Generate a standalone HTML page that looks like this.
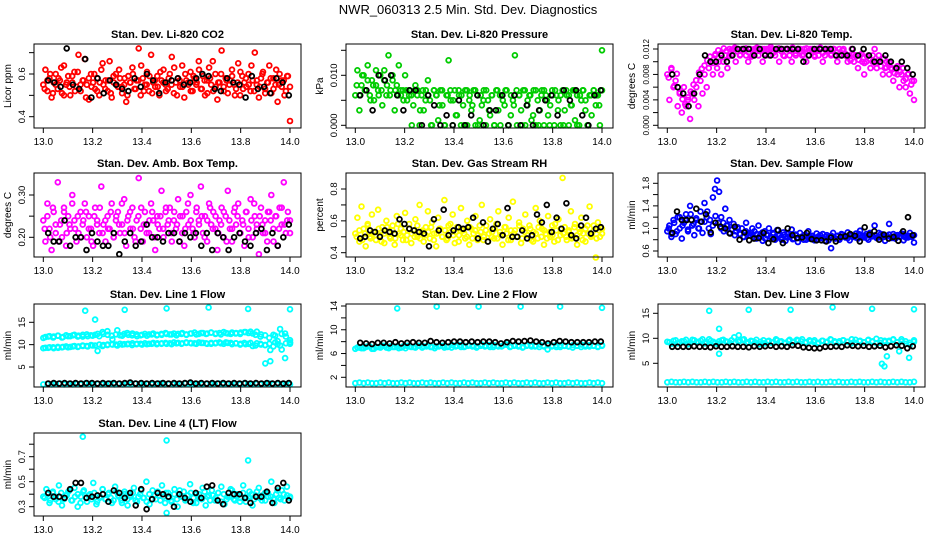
<!DOCTYPE html>
<html><head><meta charset="utf-8"><style>
body{margin:0;background:#fff}
svg{display:block;font-family:"Liberation Sans",sans-serif}
</style></head><body>
<svg id="chart" width="936" height="540" viewBox="0 0 936 540">
<rect width="936" height="540" fill="#fff"/>
<text x="468" y="14" text-anchor="middle" font-size="13">NWR_060313  2.5 Min. Std. Dev. Diagnostics</text>
</svg>
<script>
// ---- data ----
const xTicks=[13.0,13.2,13.4,13.6,13.8,14.0];
const co2Color=[0.55,0.62,0.52,0.58,0.49,0.56,0.60,0.53,0.57,0.51,0.64,0.55,0.59,0.50,0.56,0.61,0.54,0.69,0.52,0.57,0.67,0.55,0.48,0.60,0.56,0.53,0.58,0.50,0.62,0.55,0.57,0.52,0.66,0.49,0.56,0.60,0.54,0.58,0.51,0.55,0.47,0.59,0.56,0.63,0.53,0.57,0.72,0.50,0.58,0.55,0.61,0.52,0.69,0.56,0.54,0.59,0.50,0.57,0.62,0.55,0.53,0.60,0.68,0.51,0.56,0.58,0.54,0.64,0.49,0.57,0.55,0.61,0.52,0.58,0.56,0.66,0.53,0.59,0.50,0.57,0.63,0.55,0.52,0.60,0.48,0.56,0.71,0.54,0.58,0.51,0.57,0.62,0.55,0.53,0.65,0.50,0.59,0.56,0.54,0.60,0.52,0.57,0.70,0.55,0.49,0.58,0.61,0.53,0.56,0.64,0.51,0.58,0.55,0.47,0.60,0.54,0.57,0.52,0.59,0.38];
const co2ColorB=[0.53,0.57,0.60,0.51,0.55,0.58,0.63,0.50,0.56,0.54,0.59,0.52,0.61,0.55,0.57,0.49,0.58,0.54,0.60,0.52,0.56,0.65,0.53,0.57,0.51,0.59,0.55,0.62,0.54,0.58,0.50,0.56,0.60,0.53,0.57,0.64,0.52,0.55,0.59,0.51,0.57,0.54,0.61,0.56,0.52,0.58,0.55,0.63,0.50,0.57,0.54,0.60,0.56,0.52,0.59,0.55,0.62,0.53,0.57,0.51,0.58,0.66,0.54,0.56,0.60,0.52,0.57,0.55,0.59,0.50,0.56,0.61,0.53,0.58,0.55,0.64,0.52,0.57,0.54,0.60,0.51,0.56,0.58,0.53,0.62,0.55,0.57,0.50,0.59,0.54];
const co2Black=[0.57,0.56,0.54,0.72,0.55,0.53,0.67,0.49,0.58,0.51,0.57,0.55,0.53,0.52,0.58,0.54,0.60,0.57,0.51,0.56,0.57,0.58,0.55,0.56,0.58,0.60,0.59,0.53,0.52,0.58,0.56,0.55,0.49,0.59,0.53,0.54,0.51,0.58,0.56,0.50];
const presColor=[0.006,0.011,0.003,0.008,0.010,0.007,0.012,0.006,0.009,0.005,0.008,0.007,0.010,0.004,0.011,0.006,0.014,0.007,0.009,0.003,0.008,0.012,0.006,0.007,0.010,0.005,0.007,0.006,0.004,0.008,0.007,0.000,0.006,0.003,0.007,0.009,0.005,0.000,0.007,0.006,0.001,0.007,0.004,0.000,0.006,0.013,0.005,0.000,0.007,0.002,0.006,0.000,0.004,0.007,0.000,0.005,0.003,0.007,0.000,0.006,0.001,0.004,0.007,0.000,0.005,0.002,0.006,0.000,0.007,0.003,0.000,0.006,0.004,0.007,0.000,0.002,0.005,0.014,0.000,0.006,0.003,0.007,0.000,0.004,0.006,0.001,0.007,0.000,0.005,0.003,0.007,0.000,0.006,0.002,0.004,0.007,0.000,0.006,0.005,0.000,0.007,0.003,0.006,0.000,0.004,0.007,0.001,0.006,0.000,0.005,0.007,0.003,0.000,0.006,0.002,0.007,0.004,0.006,0.000,0.015];
const presColorB=[0.008,0.006,0.010,0.007,0.009,0.005,0.008,0.011,0.006,0.007,0.009,0.008,0.006,0.010,0.007,0.006,0.007,0.005,0.007,0.006,0.000,0.007,0.006,0.003,0.007,0.005,0.006,0.000,0.007,0.006,0.004,0.007,0.000,0.006,0.007,0.005,0.002,0.007,0.006,0.000,0.007,0.006,0.004,0.007,0.000,0.006,0.005,0.007,0.003,0.006,0.000,0.007,0.006,0.005,0.007,0.000,0.006,0.004,0.007,0.006,0.000,0.007,0.005,0.006,0.002,0.007,0.000,0.006,0.007,0.005,0.000,0.006,0.007,0.003,0.006,0.000,0.007,0.006,0.004,0.007,0.000,0.006,0.007,0.005,0.000,0.006,0.007,0.006,0.004,0.007];
const presBlack=[0.006,0.007,0.003,0.010,0.009,0.010,0.006,0.003,0.007,0.007,0.000,0.006,0.004,0.000,0.002,0.000,0.005,0.000,0.002,0.006,0.000,0.003,0.003,0.006,0.000,0.006,0.000,0.004,0.000,0.003,0.005,0.006,0.002,0.007,0.005,0.007,0.002,0.000,0.006,0.007];
const tempColor=[0.008,0.004,0.009,0.006,0.007,0.003,0.005,0.002,0.006,0.003,0.004,0.001,0.005,0.004,0.006,0.003,0.007,0.005,0.008,0.006,0.009,0.010,0.008,0.011,0.009,0.010,0.008,0.010,0.011,0.009,0.012,0.011,0.012,0.010,0.012,0.011,0.012,0.012,0.011,0.010,0.012,0.011,0.012,0.012,0.011,0.012,0.010,0.012,0.012,0.011,0.012,0.012,0.011,0.012,0.010,0.012,0.011,0.012,0.012,0.011,0.010,0.012,0.011,0.012,0.012,0.011,0.012,0.010,0.011,0.012,0.012,0.011,0.012,0.011,0.012,0.010,0.011,0.012,0.012,0.011,0.012,0.011,0.010,0.012,0.011,0.012,0.011,0.010,0.011,0.012,0.010,0.011,0.009,0.011,0.010,0.008,0.010,0.011,0.009,0.010,0.012,0.009,0.011,0.010,0.008,0.009,0.010,0.008,0.009,0.007,0.009,0.008,0.006,0.008,0.007,0.006,0.008,0.005,0.007,0.004];
const tempColorB=[0.0075,0.0088,0.0062,0.0081,0.0052,0.0041,0.0033,0.0044,0.0053,0.0064,0.0071,0.0083,0.0089,0.0094,0.0102,0.0108,0.0098,0.0112,0.0118,0.0113,0.0121,0.0117,0.0109,0.0119,0.0122,0.0116,0.0111,0.0119,0.0121,0.0115,0.0108,0.0118,0.0122,0.0117,0.0120,0.0112,0.0119,0.0123,0.0114,0.0118,0.0121,0.0116,0.0109,0.0120,0.0118,0.0122,0.0113,0.0119,0.0116,0.0111,0.0121,0.0117,0.0119,0.0108,0.0118,0.0122,0.0114,0.0119,0.0117,0.0112,0.0120,0.0115,0.0110,0.0118,0.0113,0.0107,0.0102,0.0111,0.0109,0.0103,0.0112,0.0098,0.0108,0.0104,0.0110,0.0097,0.0102,0.0093,0.0105,0.0091,0.0099,0.0088,0.0082,0.0093,0.0084,0.0090,0.0073,0.0081,0.0064,0.0070];
const tempBlack=[0.008,0.006,0.005,0.003,0.005,0.008,0.011,0.010,0.010,0.011,0.010,0.011,0.012,0.012,0.012,0.011,0.012,0.011,0.011,0.012,0.012,0.012,0.012,0.012,0.010,0.011,0.012,0.012,0.012,0.012,0.011,0.011,0.011,0.012,0.011,0.012,0.011,0.010,0.010,0.011,0.010,0.009,0.010,0.009,0.008];
const ambColor=[0.24,0.19,0.28,0.22,0.17,0.26,0.21,0.33,0.23,0.20,0.27,0.18,0.25,0.22,0.30,0.24,0.19,0.21,0.26,0.23,0.28,0.20,0.25,0.22,0.18,0.27,0.24,0.21,0.32,0.23,0.19,0.25,0.22,0.28,0.20,0.24,0.26,0.21,0.23,0.29,0.18,0.25,0.22,0.27,0.20,0.24,0.34,0.22,0.19,0.26,0.23,0.21,0.28,0.24,0.17,0.25,0.22,0.31,0.20,0.26,0.23,0.27,0.19,0.24,0.22,0.29,0.25,0.21,0.18,0.26,0.23,0.30,0.22,0.20,0.27,0.24,0.32,0.21,0.25,0.19,0.28,0.23,0.26,0.22,0.17,0.24,0.27,0.20,0.25,0.31,0.22,0.19,0.26,0.23,0.28,0.21,0.24,0.18,0.26,0.22,0.29,0.20,0.25,0.23,0.16,0.27,0.21,0.24,0.19,0.26,0.30,0.22,0.25,0.18,0.27,0.23,0.33,0.21,0.26,0.24];
const ambColorB=[0.22,0.25,0.20,0.27,0.23,0.19,0.24,0.26,0.21,0.23,0.28,0.22,0.25,0.20,0.24,0.26,0.22,0.19,0.25,0.23,0.27,0.21,0.24,0.22,0.26,0.20,0.25,0.23,0.28,0.21,0.24,0.26,0.22,0.19,0.25,0.27,0.23,0.21,0.24,0.26,0.20,0.23,0.25,0.22,0.27,0.24,0.21,0.26,0.23,0.19,0.25,0.22,0.28,0.24,0.21,0.26,0.23,0.25,0.20,0.24,0.27,0.22,0.25,0.21,0.23,0.26,0.19,0.24,0.22,0.27,0.25,0.21,0.23,0.26,0.20,0.24,0.28,0.22,0.25,0.23,0.21,0.26,0.24,0.19,0.25,0.22,0.27,0.23,0.24,0.21];
const ambBlack=[0.21,0.19,0.19,0.24,0.18,0.20,0.20,0.17,0.21,0.19,0.18,0.18,0.21,0.16,0.19,0.21,0.18,0.19,0.23,0.20,0.20,0.19,0.21,0.21,0.19,0.21,0.20,0.21,0.18,0.21,0.17,0.21,0.20,0.17,0.20,0.21,0.19,0.18,0.21,0.22,0.17,0.21,0.18,0.20,0.23];
const rhColor=[0.52,0.62,0.47,0.69,0.55,0.44,0.58,0.50,0.64,0.53,0.48,0.67,0.51,0.56,0.46,0.60,0.53,0.49,0.57,0.45,0.63,0.52,0.55,0.48,0.65,0.51,0.58,0.46,0.54,0.61,0.50,0.70,0.53,0.47,0.56,0.66,0.49,0.59,0.52,0.44,0.62,0.55,0.50,0.73,0.48,0.57,0.53,0.64,0.46,0.56,0.51,0.68,0.54,0.49,0.60,0.45,0.55,0.52,0.63,0.48,0.57,0.70,0.50,0.54,0.47,0.61,0.53,0.49,0.58,0.66,0.51,0.45,0.56,0.52,0.62,0.48,0.72,0.54,0.50,0.59,0.46,0.55,0.64,0.51,0.57,0.48,0.53,0.68,0.49,0.60,0.55,0.45,0.52,0.63,0.50,0.57,0.47,0.54,0.61,0.51,0.87,0.56,0.48,0.53,0.66,0.50,0.58,0.45,0.55,0.62,0.52,0.47,0.57,0.69,0.51,0.54,0.37,0.59,0.50,0.55];
const rhColorB=[0.50,0.54,0.48,0.52,0.57,0.49,0.53,0.51,0.55,0.47,0.52,0.56,0.50,0.54,0.49,0.58,0.51,0.53,0.48,0.55,0.52,0.50,0.57,0.49,0.54,0.51,0.53,0.56,0.48,0.52,0.55,0.50,0.54,0.49,0.58,0.51,0.53,0.47,0.55,0.52,0.50,0.56,0.49,0.54,0.51,0.53,0.48,0.57,0.52,0.50,0.55,0.49,0.53,0.51,0.56,0.48,0.54,0.52,0.50,0.57,0.49,0.53,0.51,0.55,0.47,0.52,0.56,0.50,0.54,0.49,0.53,0.51,0.58,0.48,0.55,0.52,0.50,0.54,0.49,0.56,0.51,0.53,0.48,0.55,0.52,0.50,0.57,0.49,0.54,0.52];
const rhBlack=[0.49,0.50,0.54,0.53,0.50,0.54,0.53,0.52,0.61,0.58,0.55,0.54,0.53,0.52,0.44,0.61,0.54,0.67,0.51,0.54,0.56,0.55,0.56,0.62,0.49,0.59,0.47,0.55,0.58,0.51,0.68,0.50,0.50,0.54,0.49,0.51,0.64,0.59,0.70,0.53,0.62,0.55,0.71,0.51,0.49,0.57,0.62,0.52,0.55,0.56];
const flowColor=[0.95,1.05,0.85,1.15,0.90,1.20,1.00,0.82,1.10,1.25,0.95,1.40,1.05,0.88,1.15,1.00,1.30,0.92,1.12,1.20,1.00,0.90,1.55,1.70,1.85,1.65,1.20,1.10,1.35,1.05,1.15,0.98,1.08,0.95,1.02,0.90,1.00,0.85,1.10,0.92,0.88,1.00,0.95,0.82,1.05,0.90,0.78,0.95,0.88,1.00,0.85,0.92,0.80,0.97,0.88,0.84,0.93,0.78,0.90,0.86,0.98,0.82,0.89,0.76,0.92,0.85,0.88,0.80,0.95,0.84,0.87,0.79,0.91,0.86,0.83,0.90,0.78,0.88,0.85,0.65,0.92,0.82,0.87,0.80,0.90,0.86,0.84,0.93,0.79,0.88,0.85,0.91,0.82,0.96,0.87,0.84,0.90,0.80,0.88,0.86,1.05,0.83,0.92,0.85,0.89,0.78,0.87,1.08,0.84,0.90,0.82,0.88,0.86,0.91,0.79,0.87,0.84,0.92,0.85,0.75];
const flowColorB=[1.00,0.90,1.10,0.95,1.20,1.05,1.15,0.98,1.25,1.08,1.18,1.00,1.12,1.45,1.30,1.15,1.05,1.22,1.10,1.00,0.95,1.05,0.92,0.98,0.88,1.00,0.90,0.85,0.95,0.88,0.92,0.84,0.90,0.86,0.93,0.82,0.88,0.85,0.90,0.83,0.87,0.80,0.89,0.84,0.86,0.81,0.88,0.83,0.85,0.80,0.87,0.82,0.86,0.84,0.80,0.88,0.83,0.85,0.79,0.87,0.84,0.86,0.82,0.89,0.85,0.83,0.88,0.86,0.84,0.90,0.85,0.87,0.83,0.92,0.86,0.88,0.84,0.90,0.85,0.87,0.89,0.83,0.86,0.88,0.85,0.90,0.84,0.87,0.86,0.88];
const flowBlack=[0.92,1.30,1.15,1.15,1.15,1.35,1.12,1.25,0.93,1.10,1.03,1.00,0.91,1.03,0.80,0.93,0.79,0.82,0.83,0.92,0.74,0.81,0.97,0.74,1.00,0.88,0.83,0.84,0.92,0.81,0.79,0.79,0.77,0.84,0.77,0.85,0.86,0.90,0.87,0.77,1.02,0.89,0.95,0.80,0.89,0.82,0.85,0.78,0.95,1.20,0.88];
const l1High=[11.5,11.8,11.6,12.0,11.7,11.9,12.1,11.8,12.2,11.9,12.0,12.4,12.8,13.0,11.2,13.2,12.0,12.6,12.1,11.9,12.2,12.0,12.3,12.1,12.2,12.4,12.3,12.1,12.4,12.2,12.5,12.3,12.6,12.4,12.7,12.5,12.3,12.6,12.4,12.5,12.7,12.8,12.9,12.2,11.8,5.8,6.3,12.0,13.5,12.5,11.0];
const l1HighB=[11.7,11.9,11.8,12.0,11.6,12.1,11.9,12.2,12.0,11.8,12.3,12.1,12.2,11.9,12.4,12.2,12.0,12.3,12.1,12.4,12.2,12.5,12.3,12.1,12.4,12.3,12.5,12.2,12.4,12.6,12.3,12.5,12.4,12.6,12.3,12.5,12.7,12.4,12.6,12.5,12.7,12.4,12.6,12.8,12.5,12.7,12.6,12.4,12.8,12.6,12.5,12.9,12.3,12.1,11.5,12.2,10.8,12.4,11.8,10.5];
const l1Low=[9.2,9.3,9.4,9.3,9.5,9.4,9.6,9.5,9.7,9.6,9.8,8.6,9.7,9.9,10.0,9.8,10.0,10.1,9.9,10.2,10.0,10.1,10.2,10.1,10.3,10.2,10.1,10.3,10.2,10.4,10.3,10.2,10.4,10.3,10.2,10.4,10.3,10.5,10.4,10.3,10.2,10.1,10.4,9.8,10.2,9.9,8.8,10.5,9.8,7.0,10.2];
const l1LowB=[9.3,9.4,9.2,9.5,9.4,9.6,9.5,9.7,9.6,9.8,9.7,9.9,9.8,10.0,9.9,10.0,10.1,10.0,10.2,10.1,10.2,10.3,10.1,10.2,10.3,10.2,10.4,10.3,10.2,10.4,10.3,10.5,10.4,10.3,10.5,10.4,10.3,10.5,10.4,10.2,10.4,10.3,10.5,10.2,10.4,10.1,10.3,10.0,10.4,10.2,9.7,10.3,10.0,9.9,10.2,9.6,10.1,8.9,10.3,10.5];
const l1Base=[1.1,1.2,1.1,1.2,1.3,1.1,1.2,1.1,1.2,1.1,1.3,1.2,1.1,1.2,1.1,1.2,1.3,1.1,1.2,1.1,1.2,1.1,1.3,1.2,1.1,1.2,1.1,1.2,1.3,1.1,1.2,1.1,1.2,1.1,1.3,1.2,1.1,1.2,1.1,1.2,1.1,1.2,1.3,1.1,1.2,1.1,1.2,1.1,1.3,1.2,1.1,1.2,1.1,1.2,1.3,1.1,1.2,1.1,1.2,1.1];
const l1Black=[1.3,1.4,1.3,1.4,1.3,1.4,1.3,1.4,1.4,1.3,1.4,1.3,1.4,1.3,1.4,1.5,1.3,1.4,1.3,1.4,1.3,1.4,1.3,1.4,1.3,1.4,1.5,1.3,1.4,1.3,1.4,1.3,1.4,1.3,1.4,1.3,1.4,1.3,1.4,1.3,1.4,1.3,1.4,1.3,1.4];
const l1OutX=[13.17,13.21,13.33,13.5,13.67,13.83,14.0];
const l1OutY=[17.6,15.6,17.8,18.1,18.3,18.0,17.9];
const l2Color=[6.8,7.0,6.9,7.2,6.8,7.1,7.0,7.3,6.9,7.1,7.2,7.0,6.9,7.2,7.1,7.3,7.0,7.2,7.1,6.9,7.2,7.3,7.1,7.0,7.2,7.4,7.1,7.3,7.2,7.0,7.3,7.2,7.4,7.1,7.3,7.2,7.5,7.1,7.3,7.2,7.0,7.3,7.4,7.2,7.1,7.3,6.7,7.2,7.4,7.1,7.3,7.2,7.0,7.3,7.1,7.4,7.2,7.3,7.1,7.3];
const l2ColorB=[7.0,6.9,7.1,7.2,6.8,7.1,7.3,7.0,7.2,7.1,6.9,7.2,7.3,7.1,7.0,7.3,7.2,7.4,7.1,7.2,7.3,7.0,7.2,7.4,7.3,7.1,7.2,7.4,7.3,7.2,7.5,7.3,7.1,7.4,7.2,7.3,7.5,7.2,7.4,7.3,7.1,7.4,7.2,7.3,7.5,7.2,7.4,7.3,7.1,7.4,7.3,7.2,7.4,7.3,7.5,7.2,7.4,7.3,7.2,7.4];
const l2Base=[1.0,1.1,1.0,1.1,1.0,1.0,1.1,1.0,1.1,1.0,1.0,1.1,1.0,1.1,1.0,1.0,1.1,1.0,1.1,1.0,1.0,1.1,1.0,1.1,1.0,1.0,1.1,1.0,1.1,1.0,1.0,1.1,1.0,1.1,1.0,1.0,1.1,1.0,1.1,1.0,1.0,1.1,1.0,1.1,1.0,1.0,1.1,1.0,1.1,1.0,1.0,1.1,1.0,1.1,1.0,1.0,1.1,1.0,1.1,1.0];
const l2Black=[7.8,7.7,7.6,7.8,7.8,7.7,7.9,7.7,7.8,7.9,7.8,7.8,8.1,7.9,7.8,7.9,8.0,8.0,7.9,8.0,7.9,8.0,8.0,7.9,7.7,7.9,8.1,8.0,8.1,8.2,8.0,7.9,7.7,7.9,8.1,8.0,7.9,7.9,7.9,7.9,8.0,8.0];
const l2OutX=[13.17,13.33,13.5,13.67,13.83,14.0];
const l2OutY=[13.6,13.9,13.9,13.9,13.9,13.7];
const l3Color=[9.3,8.9,9.6,9.1,9.4,8.8,9.7,9.2,9.5,9.0,9.8,9.3,8.9,9.6,9.4,9.1,10.2,9.3,9.7,9.0,9.5,9.2,8.8,9.6,9.4,9.1,9.8,9.3,9.0,9.5,9.2,9.7,9.4,9.1,9.6,9.3,8.9,9.5,9.2,9.8,9.4,9.1,9.6,9.3,9.0,9.7,9.4,9.2,9.6,9.3,9.9,9.1,9.5,9.3,9.7,9.2,9.8,9.4,9.1,9.6];
const l3ColorB=[9.2,9.5,9.0,9.4,9.7,9.1,9.6,9.3,9.8,9.2,9.5,9.0,9.4,9.7,9.3,9.6,9.1,9.5,9.8,9.2,9.4,9.7,9.3,9.0,9.5,9.2,9.6,9.4,9.1,9.7,9.3,9.5,9.8,9.2,9.4,9.6,9.1,9.5,9.3,9.7,9.2,9.4,9.6,9.3,9.8,9.1,9.5,9.2,9.7,9.4,9.0,9.6,9.3,9.5,9.8,9.2,9.4,8.9,8.7,9.3];
const l3Base=[1.2,1.3,1.2,1.2,1.3,1.2,1.3,1.2,1.2,1.3,1.2,1.3,1.2,1.2,1.3,1.2,1.3,1.2,1.2,1.3,1.2,1.3,1.2,1.2,1.3,1.2,1.3,1.2,1.2,1.3,1.2,1.3,1.2,1.2,1.3,1.2,1.3,1.2,1.2,1.3,1.2,1.3,1.2,1.2,1.3,1.2,1.3,1.2,1.2,1.3,1.2,1.3,1.2,1.2,1.3,1.2,1.3,1.2,1.2,1.3];
const l3Black=[8.3,8.3,8.3,8.3,8.4,8.3,8.3,8.2,8.4,8.3,8.3,8.4,8.3,8.3,8.2,8.4,8.3,8.4,8.5,8.3,8.4,8.3,8.6,8.5,8.2,8.1,8.0,8.0,8.3,8.3,8.4,8.3,8.6,8.5,8.4,8.5,8.3,8.4,8.5,8.2,8.4,8.6,8.5,8.0,8.4];
const l3OutX=[13.17,13.21,13.21,13.29,13.33,13.5,13.67,13.83,13.87,13.88,13.89,13.94,13.98,14.0];
const l3OutY=[15.5,11.9,6.9,10.6,15.7,15.7,16.2,15.9,4.9,4.4,6.4,7.4,6.1,15.8];
const l4Color=[0.38,0.44,0.33,0.41,0.36,0.47,0.31,0.39,0.42,0.35,0.45,0.30,0.38,0.43,0.34,0.40,0.49,0.32,0.37,0.44,0.36,0.41,0.33,0.46,0.39,0.35,0.42,0.31,0.38,0.45,0.34,0.40,0.37,0.50,0.32,0.43,0.36,0.39,0.47,0.33,0.41,0.35,0.44,0.30,0.38,0.42,0.36,0.48,0.33,0.40,0.37,0.45,0.31,0.39,0.43,0.35,0.41,0.46,0.32,0.38,0.44,0.36,0.40,0.34,0.47,0.37,0.42,0.31,0.39,0.45,0.35,0.41,0.38,0.50,0.33,0.43,0.36,0.40,0.46,0.37];
const l4ColorB=[0.37,0.40,0.35,0.42,0.38,0.34,0.41,0.36,0.39,0.43,0.35,0.38,0.40,0.33,0.42,0.37,0.39,0.36,0.41,0.34,0.38,0.44,0.36,0.40,0.37,0.35,0.42,0.38,0.33,0.40,0.36,0.39,0.41,0.35,0.38,0.43,0.37,0.34,0.40,0.36,0.39,0.42,0.35,0.38,0.41,0.37,0.34,0.40,0.36,0.43,0.38,0.35,0.39,0.41,0.37,0.33,0.40,0.36,0.42,0.38,0.35,0.39,0.37,0.41,0.34,0.40,0.36,0.38,0.43,0.35,0.39,0.37,0.41,0.34,0.38,0.40,0.36,0.42,0.37,0.39,0.35,0.41,0.38,0.36,0.40,0.37,0.43,0.35,0.39,0.38];
const l4Black=[0.41,0.38,0.38,0.37,0.44,0.49,0.49,0.37,0.38,0.39,0.40,0.34,0.43,0.41,0.37,0.41,0.31,0.44,0.28,0.36,0.41,0.40,0.38,0.30,0.40,0.37,0.34,0.41,0.37,0.46,0.47,0.35,0.32,0.41,0.40,0.40,0.37,0.33,0.38,0.38,0.42,0.33,0.45,0.49,0.35];
const l4OutX=[13.16,13.50,13.83,13.50];
const l4OutY=[0.86,0.83,0.67,0.25];

// ---- layout ----
const NS='http://www.w3.org/2000/svg';
const svg=document.getElementById('chart');
function el(tag,attrs,parent){const e=document.createElementNS(NS,tag);for(const k in attrs)e.setAttribute(k,attrs[k]);(parent||svg).appendChild(e);return e;}
const rows=[[44,128],[173,257],[304,387],[433,516]];
const panels=[
 {id:'co2',title:'Stan. Dev. Li-820 CO2',ylab:'Licor ppm',r:0,c:0,v1:0.6,p1:74,v2:0.4,p2:116.7,ticks:[0.4,0.5,0.6,0.7],labels:[[0.4,'0.4'],[0.6,'0.6']],col:'#ff0000',series:[co2Color,co2ColorB],black:co2Black},
 {id:'pressure',title:'Stan. Dev. Li-820 Pressure',ylab:'kPa',r:0,c:1,v1:0.01,p1:75.3,v2:0,p2:125.3,ticks:[0,0.005,0.01,0.015],labels:[[0,'0.000'],[0.01,'0.010']],col:'#00cc00',series:[presColor,presColorB],black:presBlack},
 {id:'temp',title:'Stan. Dev. Li-820 Temp.',ylab:'degrees C',r:0,c:2,v1:0.012,p1:49,v2:0,p2:125.3,ticks:[0,0.002,0.004,0.006,0.008,0.010,0.012],labels:[[0,'0.000'],[0.004,'0.004'],[0.008,'0.008'],[0.012,'0.012']],col:'#ff00ff',series:[tempColor,tempColorB],black:tempBlack,lfs:8},
 {id:'ambbox',title:'Stan. Dev. Amb. Box Temp.',ylab:'degrees C',r:1,c:0,v1:0.3,p1:195,v2:0.2,p2:237.3,ticks:[0.2,0.25,0.3],labels:[[0.2,'0.20'],[0.3,'0.30']],col:'#ff00ff',series:[ambColor,ambColorB],black:ambBlack},
 {id:'rh',title:'Stan. Dev. Gas Stream RH',ylab:'percent',r:1,c:1,v1:0.8,p1:189,v2:0.4,p2:252.7,ticks:[0.4,0.5,0.6,0.7,0.8],labels:[[0.4,'0.4'],[0.6,'0.6'],[0.8,'0.8']],col:'#ffff00',series:[rhColor,rhColorB],black:rhBlack},
 {id:'sampleflow',title:'Stan. Dev. Sample Flow',ylab:'ml/min',r:1,c:2,v1:1.8,p1:183.3,v2:0.6,p2:251,ticks:[0.6,0.8,1.0,1.2,1.4,1.6,1.8],labels:[[0.6,'0.6'],[1.0,'1.0'],[1.4,'1.4'],[1.8,'1.8']],col:'#0000ff',series:[flowColor,flowColorB],black:flowBlack},
 {id:'line1',title:'Stan. Dev. Line 1 Flow',ylab:'ml/min',r:2,c:0,v1:15,p1:322.3,v2:5,p2:367,ticks:[5,10,15],labels:[[5,'5'],[10,'10'],[15,'15']],col:'#00ffff',series:[l1High,l1HighB,l1Low,l1LowB,l1Base],outX:l1OutX,outY:l1OutY,black:l1Black},
 {id:'line2',title:'Stan. Dev. Line 2 Flow',ylab:'ml/min',r:2,c:1,v1:14,p1:306,v2:2,p2:377.3,ticks:[2,4,6,8,10,12,14],labels:[[2,'2'],[6,'6'],[10,'10'],[14,'14']],col:'#00ffff',series:[l2Color,l2ColorB,l2Base],outX:l2OutX,outY:l2OutY,black:l2Black},
 {id:'line3',title:'Stan. Dev. Line 3 Flow',ylab:'ml/min',r:2,c:2,v1:15,p1:313.3,v2:5,p2:363.3,ticks:[5,10,15],labels:[[5,'5'],[10,'10'],[15,'15']],col:'#00ffff',series:[l3Color,l3ColorB,l3Base],outX:l3OutX,outY:l3OutY,black:l3Black},
 {id:'line4',title:'Stan. Dev. Line 4 (LT) Flow',ylab:'ml/min',r:3,c:0,v1:0.7,p1:456.7,v2:0.3,p2:506.7,ticks:[0.3,0.4,0.5,0.6,0.7,0.8],labels:[[0.3,'0.3'],[0.5,'0.5'],[0.7,'0.7']],col:'#00ffff',series:[l4Color,l4ColorB],outX:l4OutX,outY:l4OutY,black:l4Black}
];
panels.forEach(p=>{
  const off=p.c*312, L=34+off, R=301+off, T=rows[p.r][0], B=rows[p.r][1];
  const xs=v=>43.3+off+(v-13)*246.7;
  const ys=v=>p.p2+(v-p.v2)*(p.p1-p.p2)/(p.v1-p.v2);
  const g=el('g',{});
  
  
  const t=el('text',{x:(L+R)/2,y:T-6,'text-anchor':'middle','font-size':'11','font-weight':'bold'},g);
  t.textContent=p.title;
  
  
  const yl=el('text',{x:0,y:0,'text-anchor':'middle','font-size':'10',transform:`translate(${L-23},${(T+B)/2}) rotate(-90)`},g);
  yl.textContent=p.ylab;
  
  
  const pts=el('g',{fill:'none','stroke-width':'1.8'},g);
  
  
  const dot=(x,y,col)=>{const c=el('circle',{cx:xs(x).toFixed(1),cy:ys(y).toFixed(1),r:'2.4',stroke:col},pts);
    
    };
  p.series.forEach((arr,si)=>{const sh=(si%2)*0.5;arr.forEach((v,i)=>dot(13+(i+sh)/(arr.length-1+sh),v,p.col));});
  if(p.outX)p.outX.forEach((x,i)=>dot(x,p.outY[i],p.col));
  p.black.forEach((v,i)=>dot(13.02+i*0.975/(p.black.length-1),v,'#000'));
  const box=el('rect',{x:L,y:T,width:R-L,height:B-T,fill:'none',stroke:'#000','stroke-width':'1'},g);
  
  
  xTicks.forEach(v=>{const x=xs(v);
    el('line',{x1:x,x2:x,y1:B,y2:B+5,stroke:'#000'},g);
    const tl=el('text',{x:x,y:B+17,'text-anchor':'middle','font-size':'10'},g);
    tl.textContent=v.toFixed(1);
    
    });
  p.ticks.forEach(v=>{const y=ys(v);el('line',{x1:L-5,x2:L,y1:y,y2:y,stroke:'#000'},g);});
  p.labels.forEach(([v,s])=>{const y=ys(v);
    const tl=el('text',{x:0,y:0,'text-anchor':'middle','font-size':String(p.lfs||9.5),transform:`translate(${L-9},${y}) rotate(-90)`},g);
    tl.textContent=s;
    
    });
});
</script>
</body></html>
